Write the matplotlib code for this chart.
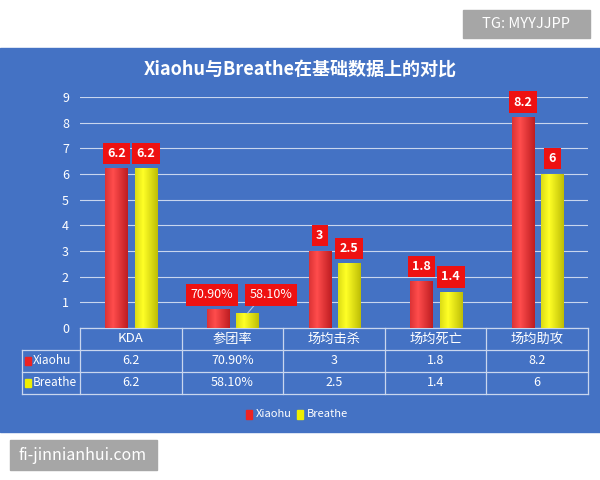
import matplotlib
matplotlib.use("Agg")
import matplotlib.pyplot as plt
import numpy as np
from matplotlib.patches import Rectangle

plt.rcParams['font.family'] = ['Noto Sans CJK SC', 'DejaVu Sans']

categories = ["KDA", "参团率", "场均击杀", "场均死亡", "场均助攻"]
xiaohu = [6.2, 0.709, 3, 1.8, 8.2]
breathe = [6.2, 0.581, 2.5, 1.4, 6]
xiaohu_lbl = ["6.2", "70.90%", "3", "1.8", "8.2"]
breathe_lbl = ["6.2", "58.10%", "2.5", "1.4", "6"]
series = ["Xiaohu", "Breathe"]

W, H = 600, 480
fig = plt.figure(figsize=(6, 4.8), dpi=100)
fig.patch.set_facecolor("white")
BLUE = "#4472c4"
fig.add_artist(Rectangle((0, 1 - 432 / H), 1, 384 / H, transform=fig.transFigure, color=BLUE, zorder=-10))

def fx(px): return px / W
def fy(py): return 1 - py / H

ax = fig.add_axes([fx(80), fy(328), fx(508), (328 - 97) / H])
ax.set_zorder(2)
ax.set_facecolor("none")
for s in ax.spines.values():
    s.set_visible(False)
ax.set_yticks(range(10))
ax.tick_params(axis='y', colors="white", labelsize=9, length=0, pad=8)
ax.set_xticks([])
ax.grid(axis='y', color="#c9d6ee", lw=0.8)
ax.set_axisbelow(True)

bw = 0.22
def gbar(x, h, cols):
    g = np.linspace(0, 1, 50)
    g = np.clip(1 - np.abs(g - 0.35) * 1.3, 0, 1)
    img = np.array([[np.array(cols[0]) * (1 - v) + np.array(cols[1]) * v for v in g]])
    ax.imshow(img, extent=(x - bw / 2, x + bw / 2, 0, h), aspect='auto', zorder=3)

red = ((0.70, 0.08, 0.10), (1.0, 0.30, 0.30))
yel = ((0.70, 0.70, 0.0), (1.0, 1.0, 0.15))
for i in range(5):
    gbar(i - 0.14, xiaohu[i], red)
    gbar(i + 0.15, breathe[i], yel)
ax.set_xlim(-0.5, 4.5)
ax.set_ylim(0, 9)

box = dict(boxstyle="square,pad=0.35", fc="#ee1111", ec="none")
for i in range(5):
    if i == 1:
        ax.text(i - 0.2, 1.3, xiaohu_lbl[i], color="white", ha="center", va="center", fontsize=9, bbox=box, zorder=5)
        ax.text(i + 0.38, 1.3, breathe_lbl[i], color="white", ha="center", va="center", fontsize=9, bbox=box, zorder=5)
        ax.plot([i + 0.15, i + 0.25], [breathe[i], 1.05], color="#b0c4e8", lw=0.8, zorder=4)
    else:
        ax.text(i - 0.14, xiaohu[i] + 0.6, xiaohu_lbl[i], color="white", ha="center", va="center", fontsize=9, fontweight="bold", bbox=box, zorder=5)
        ax.text(i + 0.15, breathe[i] + 0.6, breathe_lbl[i], color="white", ha="center", va="center", fontsize=9, fontweight="bold", bbox=box, zorder=5)

fig.text(0.5, fy(69), "Xiaohu与Breathe在基础数据上的对比", color="white", ha="center", va="center", fontsize=13, fontweight="bold")

lc = "#c9d6ee"
rows = [328, 350, 372, 394]
colx = [80 + k * 101.6 for k in range(6)]
def hl(y, x0, x1):
    fig.add_artist(plt.Line2D([fx(x0), fx(x1)], [fy(y), fy(y)], color=lc, lw=0.9))
def vl(x, y0, y1):
    fig.add_artist(plt.Line2D([fx(x), fx(x)], [fy(y0), fy(y1)], color=lc, lw=0.9))
hl(328, 80, 588)
for y in rows[1:]:
    hl(y, 22, 588)
for x in colx:
    vl(x, 328, 394)
vl(22, 350, 394)
for k in range(5):
    cx = (colx[k] + colx[k + 1]) / 2
    fig.text(fx(cx), fy(339), categories[k], color="white", ha="center", va="center", fontsize=9.5)
    fig.text(fx(cx), fy(361), xiaohu_lbl[k], color="white", ha="center", va="center", fontsize=9)
    fig.text(fx(cx), fy(383), breathe_lbl[k], color="white", ha="center", va="center", fontsize=9)
for j, (name, col) in enumerate(zip(series, ["#ee2222", "#eeee00"])):
    y = 361 + 22 * j
    fig.add_artist(Rectangle((fx(25), fy(y + 4)), fx(6), 8 / H, transform=fig.transFigure, color=col))
    fig.text(fx(33), fy(y), name, color="white", ha="left", va="center", fontsize=8.5)

for name, col, x in [("Xiaohu", "#ee2222", 246), ("Breathe", "#eeee00", 297)]:
    fig.add_artist(Rectangle((fx(x), fy(419)), fx(6), 9 / H, transform=fig.transFigure, color=col))
    fig.text(fx(x + 10), fy(414), name, color="white", ha="left", va="center", fontsize=8)

fig.add_artist(Rectangle((fx(463), fy(38)), fx(127), 28 / H, transform=fig.transFigure, color="#a6a6a6"))
fig.text(fx(526), fy(24), "TG: MYYJJPP", color="white", ha="center", va="center", fontsize=10.5)
fig.add_artist(Rectangle((fx(10), fy(470)), fx(147), 30 / H, transform=fig.transFigure, color="#a6a6a6"))
fig.text(fx(83), fy(455), "fi-jinnianhui.com", color="white", ha="center", va="center", fontsize=11.5)

fig.savefig("out.png", dpi=100)
